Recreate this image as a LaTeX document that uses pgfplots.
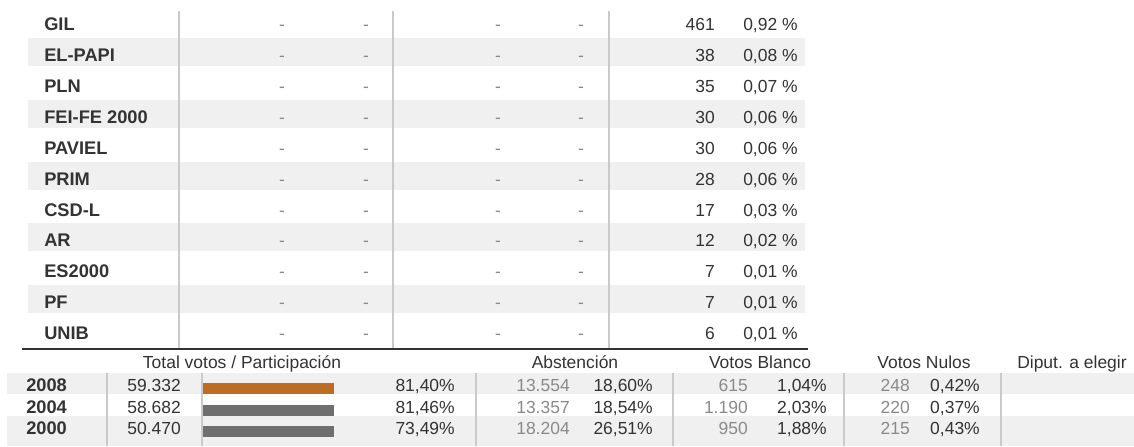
\documentclass[border=0pt]{standalone}
\usepackage{fontspec}
\setmainfont{Liberation Sans}
\usepackage{pgfplots}
\pgfplotsset{compat=1.18}
\definecolor{rowshade}{HTML}{F0F0F0}
\definecolor{vline}{HTML}{CACACA}
\definecolor{txt}{HTML}{333333}
\definecolor{gtxt}{HTML}{8A8A8A}
\definecolor{barorange}{HTML}{BD6C22}
\definecolor{bargray}{HTML}{6F6F6F}
\newcommand{\ff}{\fontsize{13.1}{15}\selectfont}
\newcommand{\fb}{\fontsize{13.7}{15}\selectfont\bfseries}
\begin{document}
\begin{tikzpicture}
\useasboundingbox (0,0) rectangle (850.5pt,334.5pt);
% background: shaded rows and grid lines (pixel coordinates, y downward)
\begin{scope}[x=0.75pt,y=-0.75pt,yshift=334.5pt]
  \foreach \i in {1,3,5,7,9} {
    \fill[rowshade] (28,{30.7+30.9*\i-23.5}) rectangle (805,{30.7+30.9*\i+4.5});
  }
  \fill[rowshade] (7,373) rectangle (1134,394);
  \fill[rowshade] (7,416) rectangle (1134,446);
  \foreach \x in {179,393,609} {
    \draw[vline, line width=1.3pt] (\x,11) -- (\x,348);
  }
  \foreach \x in {107,202,476,673,844,1001} {
    \draw[vline, line width=1.3pt] (\x,373) -- (\x,446);
  }
  \draw[txt, line width=2pt] (22,349) -- (808,349);
\end{scope}
% participation bars
\begin{axis}[at={(0,0)}, anchor=south west,
  width=850.5pt, height=334.5pt, scale only axis, hide axis,
  xmin=0, xmax=1134, ymin=0, ymax=446, y dir=reverse]
  \addplot[fill=barorange, draw=none] coordinates {(203.3,383.3) (334,383.3) (334,394) (203.3,394)} -- cycle;
  \addplot[fill=bargray, draw=none] coordinates {(203.3,405) (334,405) (334,415.5) (203.3,415.5)} -- cycle;
  \addplot[fill=bargray, draw=none] coordinates {(203.3,426) (334,426) (334,436.5) (203.3,436.5)} -- cycle;
\end{axis}
% texts
\begin{scope}[x=0.75pt,y=-0.75pt,yshift=334.5pt,
  every node/.style={font=\ff, inner sep=0pt, text=txt}]
  \foreach \n/\v/\p [count=\i from 0] in {GIL/461/{0,92}, EL-PAPI/38/{0,08}, PLN/35/{0,07},
      FEI-FE 2000/30/{0,06}, PAVIEL/30/{0,06}, PRIM/28/{0,06}, CSD-L/17/{0,03},
      AR/12/{0,02}, ES2000/7/{0,01}, PF/7/{0,01}, UNIB/6/{0,01}} {
    \pgfmathsetmacro{\yy}{30.7+30.9*\i}
    \node[anchor=base west, font=\fb] at (44,\yy) {\n};
    \node[anchor=base, text=gtxt] at (282,\yy) {-};
    \node[anchor=base, text=gtxt] at (366,\yy) {-};
    \node[anchor=base, text=gtxt] at (498,\yy) {-};
    \node[anchor=base, text=gtxt] at (581,\yy) {-};
    \node[anchor=base east] at (715,\yy) {\v};
    \node[anchor=base west] at (743,\yy) {\p~\%};
  }
  \node[anchor=base] at (242,369) {Total votos / Participación};
  \node[anchor=base] at (575,369) {Abstención};
  \node[anchor=base] at (760,369) {Votos Blanco};
  \node[anchor=base] at (924,369) {Votos Nulos};
  \node[anchor=base west] at (1017,369) {Diput. a elegir};
  \foreach \yr/\tv/\tp/\av/\ap/\bv/\bp/\nv/\np/\yy in {
      2008/59.332/{81,40}/13.554/{18,60}/615/{1,04}/248/{0,42}/391,
      2004/58.682/{81,46}/13.357/{18,54}/1.190/{2,03}/220/{0,37}/413,
      2000/50.470/{73,49}/18.204/{26,51}/950/{1,88}/215/{0,43}/434} {
    \node[anchor=base west, font=\fb] at (26,\yy) {\yr};
    \node[anchor=base east] at (181,\yy) {\tv};
    \node[anchor=base east] at (455,\yy) {\tp\%};
    \node[anchor=base east, text=gtxt] at (570,\yy) {\av};
    \node[anchor=base east] at (653,\yy) {\ap\%};
    \node[anchor=base east, text=gtxt] at (748,\yy) {\bv};
    \node[anchor=base east] at (827,\yy) {\bp\%};
    \node[anchor=base east, text=gtxt] at (910,\yy) {\nv};
    \node[anchor=base east] at (980,\yy) {\np\%};
  }
\end{scope}
\end{tikzpicture}
\end{document}
